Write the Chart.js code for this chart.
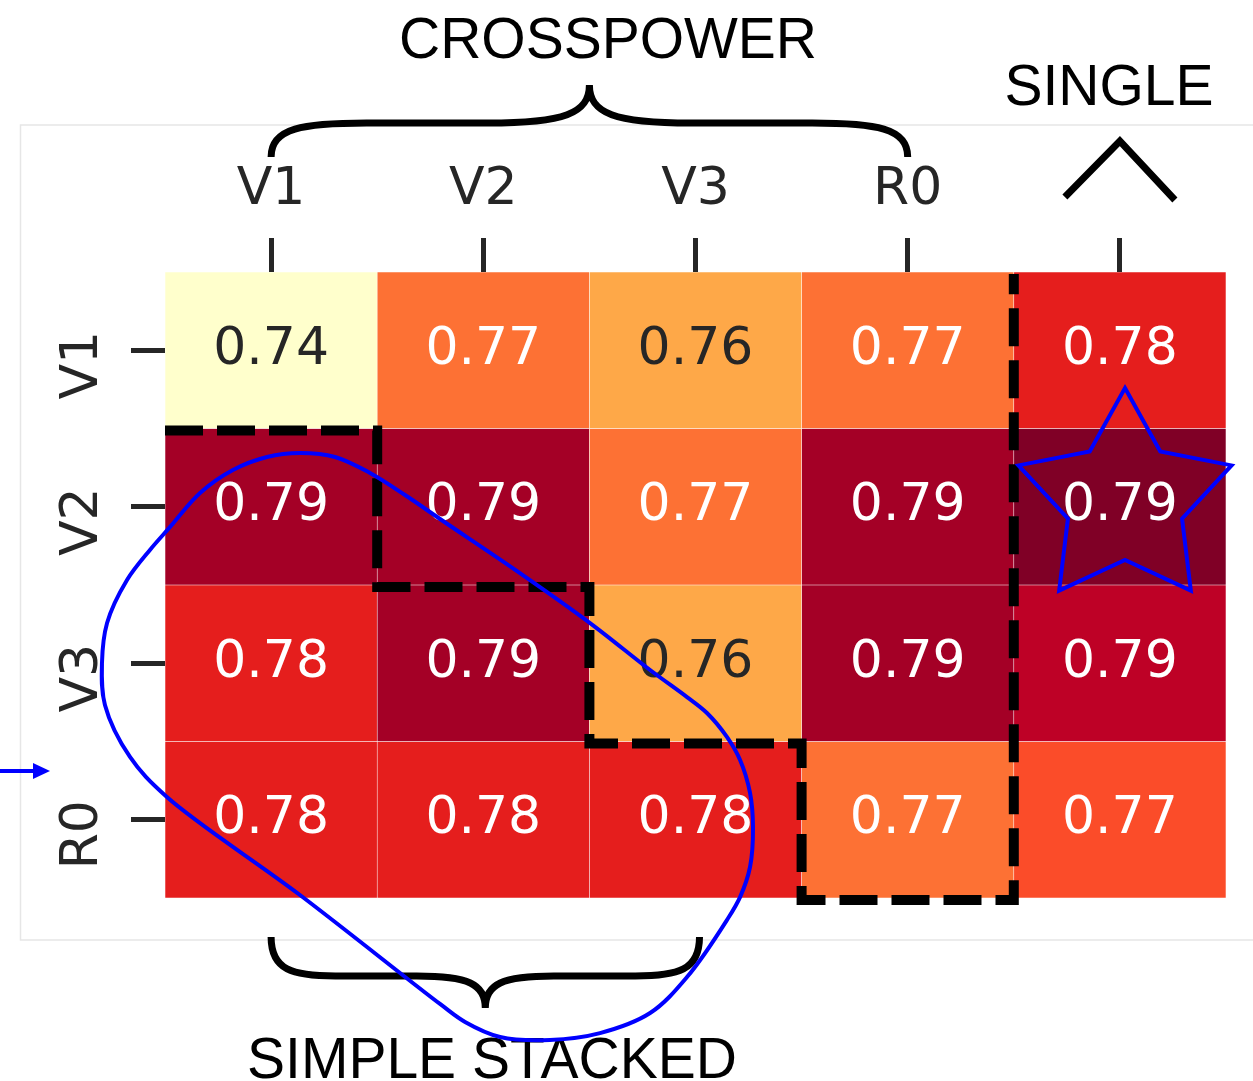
<!DOCTYPE html>
<html>
<head>
<meta charset="utf-8">
<script src="https://cdn.jsdelivr.net/npm/chart.js@4.4.0/dist/chart.umd.min.js"></script>
<style>
  html, body { margin: 0; padding: 0; background: #ffffff; }
  canvas { display: block; }
</style>
</head>
<body>
<canvas id="heat" width="1253" height="1081"></canvas>
<script>
// Feature sets on each axis (last column is the single-model score, its tick has no text)
const colLabels = ['V1', 'V2', 'V3', 'R0', ''];
const rowLabels = ['V1', 'V2', 'V3', 'R0'];

// Score of each row, one value per column
const rowV1 = [0.740, 0.770, 0.762, 0.770, 0.780];
const rowV2 = [0.790, 0.790, 0.770, 0.790, 0.794];
const rowV3 = [0.780, 0.790, 0.762, 0.790, 0.787];
const rowR0 = [0.780, 0.780, 0.780, 0.770, 0.774];
const scoreRows = [rowV1, rowV2, rowV3, rowR0];

// Group captions
const groupTop = 'CROSSPOWER';
const groupSingle = 'SINGLE';
const groupBottom = 'SIMPLE STACKED';

// YlOrRd colour map
const ylOrRd = ['#ffffcc', '#ffeda0', '#fed976', '#feb24c', '#fd8d3c', '#fc4e2a', '#e31a1c', '#bd0026', '#800026'];
const allScores = scoreRows.flat();
const vMin = Math.min(...allScores);
const vMax = Math.max(...allScores);

function hexToRgb(h) {
  return [parseInt(h.slice(1, 3), 16), parseInt(h.slice(3, 5), 16), parseInt(h.slice(5, 7), 16)];
}
function colourFor(v) {
  const t = Math.min(1, Math.max(0, (v - vMin) / (vMax - vMin)));
  const pos = t * (ylOrRd.length - 1);
  const i = Math.min(ylOrRd.length - 2, Math.floor(pos));
  const f = pos - i;
  const a = hexToRgb(ylOrRd[i]), b = hexToRgb(ylOrRd[i + 1]);
  const c = a.map((x, k) => Math.round(x + (b[k] - x) * f));
  return 'rgb(' + c.join(',') + ')';
}
function textColourFor(rgbStr) {
  const c = rgbStr.match(/\d+/g).map(Number).map(x => {
    x /= 255;
    return x <= 0.03928 ? x / 12.92 : Math.pow((x + 0.055) / 1.055, 2.4);
  });
  const lum = 0.2126 * c[0] + 0.7152 * c[1] + 0.0722 * c[2];
  return lum > 0.408 ? '#262626' : '#ffffff';
}

// One floating-bar dataset per row: each cell spans [row, row + 1] on the value axis
const datasets = scoreRows.map((row, r) => ({
  label: rowLabels[r],
  data: row.map(() => [r, r + 1]),
  backgroundColor: row.map(colourFor),
  borderColor: 'rgba(255,255,255,0.22)',
  borderWidth: 0.6,
  borderSkipped: false,
  grouped: false,
  barPercentage: 1,
  categoryPercentage: 1
}));

// Outline of the simple-stacked block, in cell units (u: columns, v: rows)
const stackedOutline = [
  [0.636, 1.157], [0.801, 1.182], [0.966, 1.284], [1.131, 1.425], [1.310, 1.591],
  [1.659, 1.911], [2.003, 2.243], [2.286, 2.543], [2.460, 2.716], [2.554, 2.818],
  [2.648, 2.971], [2.710, 3.118], [2.757, 3.329], [2.771, 3.546], [2.757, 3.802],
  [2.710, 3.994], [2.648, 4.141], [2.460, 4.505], [2.286, 4.735], [2.050, 4.863],
  [1.814, 4.907], [1.579, 4.888], [1.414, 4.792], [1.296, 4.677], [0.636, 3.981],
  [0.009, 3.355], [-0.165, 3.099], [-0.283, 2.767], [-0.297, 2.498], [-0.273, 2.243],
  [-0.179, 1.968], [-0.071, 1.776], [0.024, 1.629], [0.165, 1.412], [0.320, 1.265],
  [0.481, 1.182]
];
// Boundary between crosspower cells and the rest, in cell units
const crossBoundary = [[0, 1], [1, 1], [1, 2], [2, 2], [2, 3], [3, 3], [3, 4], [4, 4], [4, 0]];

function brace(ctx, x1, x2, yEnd, yFlat, yTip) {
  const mid = (x1 + x2) / 2, h = (x2 - x1) / 2;
  const d1 = yFlat - yEnd, d2 = yTip - yFlat;
  ctx.beginPath();
  ctx.moveTo(x1, yEnd);
  ctx.bezierCurveTo(x1, yEnd + 0.85 * d1, x1 + 0.1 * h, yFlat, x1 + 0.3 * h, yFlat);
  ctx.lineTo(mid - 0.32 * h, yFlat);
  ctx.bezierCurveTo(mid - 0.08 * h, yFlat, mid, yFlat + 0.25 * d2, mid, yTip);
  ctx.bezierCurveTo(mid, yFlat + 0.25 * d2, mid + 0.08 * h, yFlat, mid + 0.32 * h, yFlat);
  ctx.lineTo(x2 - 0.3 * h, yFlat);
  ctx.bezierCurveTo(x2 - 0.1 * h, yFlat, x2, yEnd + 0.85 * d1, x2, yEnd);
  ctx.stroke();
}

// Closed centripetal Catmull-Rom curve through the given pixel points
function smoothClosed(ctx, pts) {
  const n = pts.length;
  const dist = (a, b) => Math.max(1e-6, Math.pow(Math.hypot(b[0] - a[0], b[1] - a[1]), 0.5));
  ctx.beginPath();
  ctx.moveTo(pts[0][0], pts[0][1]);
  for (let i = 0; i < n; i++) {
    const p0 = pts[(i - 1 + n) % n], p1 = pts[i], p2 = pts[(i + 1) % n], p3 = pts[(i + 2) % n];
    const d1 = dist(p0, p1), d2 = dist(p1, p2), d3 = dist(p2, p3);
    const c1 = [0, 1].map(k =>
      (d1 * d1 * p2[k] - d2 * d2 * p0[k] + (2 * d1 * d1 + 3 * d1 * d2 + d2 * d2) * p1[k]) / (3 * d1 * (d1 + d2)));
    const c2 = [0, 1].map(k =>
      (d3 * d3 * p1[k] - d2 * d2 * p3[k] + (2 * d3 * d3 + 3 * d3 * d2 + d2 * d2) * p2[k]) / (3 * d3 * (d3 + d2)));
    ctx.bezierCurveTo(c1[0], c1[1], c2[0], c2[1], p2[0], p2[1]);
  }
  ctx.closePath();
  ctx.stroke();
}

const decorations = {
  id: 'decorations',
  beforeDraw(chart) {
    const ctx = chart.ctx;
    ctx.save();
    ctx.fillStyle = '#ffffff';
    ctx.fillRect(0, 0, chart.width, chart.height);
    ctx.strokeStyle = '#e6e6e6';
    ctx.lineWidth = 1.5;
    ctx.strokeRect(20.5, 125, chart.width + 20, 815);
    ctx.restore();
  },
  afterDatasetsDraw(chart) {
    const ctx = chart.ctx;
    ctx.save();
    ctx.font = '52px "DejaVu Sans"';
    ctx.textAlign = 'center';
    ctx.textBaseline = 'middle';
    chart.data.datasets.forEach((ds, r) => {
      chart.getDatasetMeta(r).data.forEach((bar, c) => {
        const v = scoreRows[r][c];
        ctx.fillStyle = textColourFor(colourFor(v));
        ctx.fillText(v.toFixed(2), bar.x, (bar.y + bar.base) / 2);
      });
    });
    ctx.restore();
  },
  afterDraw(chart) {
    const ctx = chart.ctx;
    const xs = chart.scales.x, ys = chart.scales.y;
    const px = u => xs.getPixelForValue(u - 0.5);
    const py = v => ys.getPixelForValue(v);
    ctx.save();

    // row labels, rotated
    ctx.font = '52px "DejaVu Sans"';
    ctx.fillStyle = '#262626';
    ctx.textAlign = 'center';
    ctx.textBaseline = 'middle';
    ys.ticks.forEach((t, k) => {
      ctx.save();
      ctx.translate(ys.right - 82, ys.getPixelForTick(k) + 15);
      ctx.rotate(-Math.PI / 2);
      ctx.fillText(rowLabels[k], 0, 0);
      ctx.restore();
    });

    // dashed boundary
    ctx.strokeStyle = '#000000';
    ctx.lineWidth = 10;
    ctx.setLineDash([38, 14]);
    ctx.lineJoin = 'miter';
    ctx.beginPath();
    crossBoundary.forEach(([u, v], i) => {
      if (i === 0) ctx.moveTo(px(u), py(v) + 2); else ctx.lineTo(px(u), py(v) + 2);
    });
    ctx.stroke();
    ctx.setLineDash([]);

    // braces and chevron
    ctx.lineWidth = 7;
    ctx.lineCap = 'butt';
    brace(ctx, xs.getPixelForValue(0), xs.getPixelForValue(3), 157, 123, 85);
    brace(ctx, xs.getPixelForValue(0), xs.getPixelForValue(2) + 4, 937, 976, 1008);
    const sx = xs.getPixelForValue(4);
    ctx.beginPath();
    ctx.moveTo(sx - 55, 197);
    ctx.lineTo(sx, 141);
    ctx.lineTo(sx + 55, 200);
    ctx.stroke();

    // group captions
    ctx.font = '57px "Liberation Sans"';
    ctx.fillStyle = '#000000';
    ctx.textAlign = 'center';
    ctx.textBaseline = 'alphabetic';
    ctx.fillText(groupTop, 608, 58);
    ctx.fillText(groupSingle, 1109, 105);
    ctx.fillText(groupBottom, 492, 1078);

    // blue outline round the simple-stacked cells
    ctx.strokeStyle = '#0000ff';
    ctx.lineWidth = 4;
    ctx.lineJoin = 'round';
    smoothClosed(ctx, stackedOutline.map(([u, v]) => [px(u), py(v)]));

    // star on the best cell
    let best = { r: 0, c: 0, v: -Infinity };
    scoreRows.forEach((row, r) => row.forEach((v, c) => { if (v > best.v) best = { r, c, v }; }));
    const cx = px(best.c + 0.524), cy = py(best.r + 0.457);
    const R = 112, rIn = 60;
    ctx.lineWidth = 4;
    ctx.beginPath();
    for (let k = 0; k < 10; k++) {
      const ang = -Math.PI / 2 + k * Math.PI / 5;
      const rad = k % 2 === 0 ? R : rIn;
      const x = cx + rad * Math.cos(ang), y = cy + rad * Math.sin(ang);
      if (k === 0) ctx.moveTo(x, y); else ctx.lineTo(x, y);
    }
    ctx.closePath();
    ctx.lineJoin = 'miter';
    ctx.stroke();

    // arrow at the left edge
    ctx.lineWidth = 4;
    ctx.beginPath();
    ctx.moveTo(0, 771);
    ctx.lineTo(36, 771);
    ctx.stroke();
    ctx.fillStyle = '#0000ff';
    ctx.beginPath();
    ctx.moveTo(33, 763);
    ctx.lineTo(50, 771);
    ctx.lineTo(33, 779);
    ctx.closePath();
    ctx.fill();

    ctx.restore();
  }
};

new Chart(document.getElementById('heat'), {
  type: 'bar',
  data: { labels: colLabels, datasets },
  plugins: [decorations],
  options: {
    responsive: false,
    devicePixelRatio: 1,
    animation: false,
    layout: { padding: { left: 0, right: 27, top: 0, bottom: 183 } },
    plugins: { legend: { display: false }, tooltip: { enabled: false } },
    scales: {
      x: {
        type: 'category',
        position: 'top',
        offset: true,
        border: { display: false },
        grid: { offset: false, drawOnChartArea: false, drawTicks: true, tickLength: 34, tickWidth: 5, tickColor: '#262626' },
        ticks: { font: { family: 'DejaVu Sans', size: 52 }, color: '#262626', padding: 16, minRotation: 0, maxRotation: 0, autoSkip: false },
        afterFit(scale) { scale.height = 272; }
      },
      y: {
        type: 'linear',
        min: 0,
        max: 4,
        reverse: true,
        border: { display: false },
        grid: { drawOnChartArea: false, drawTicks: true, tickLength: 34, tickWidth: 5, tickColor: '#262626' },
        ticks: { display: false },
        afterBuildTicks(scale) { scale.ticks = rowLabels.map((_, k) => ({ value: k + 0.5 })); },
        afterFit(scale) { scale.width = 165; }
      }
    }
  }
});
</script>
</body>
</html>
